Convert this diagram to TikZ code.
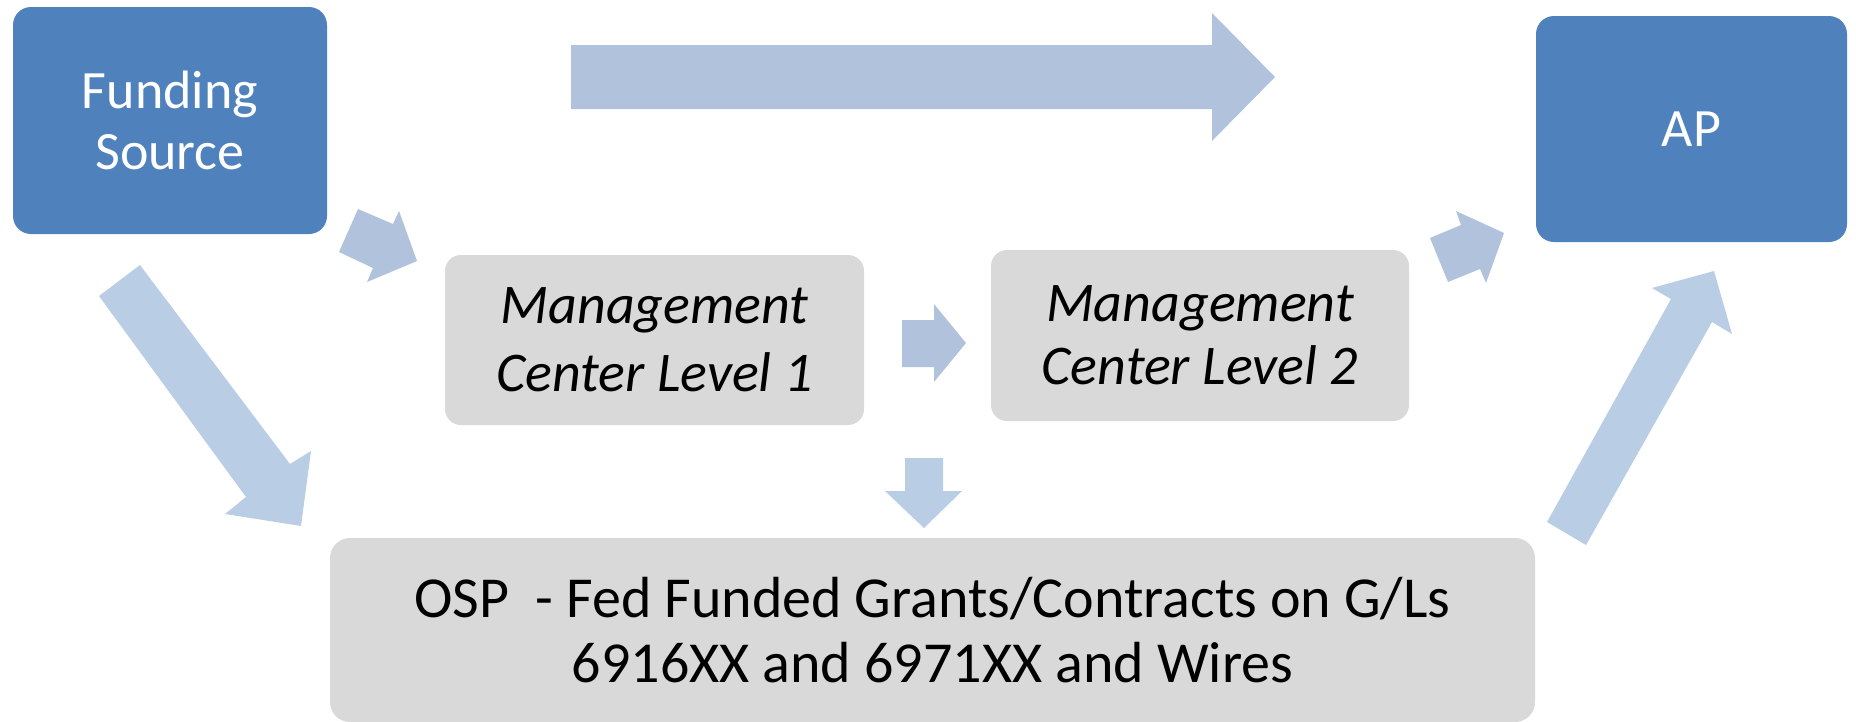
\documentclass[tikz,border=0pt]{standalone}
\usepackage{fontspec}
\setmainfont{Carlito}
\definecolor{boxblue}{HTML}{4F81BD}
\definecolor{boxgray}{HTML}{D9D9D9}
\definecolor{arrowA}{HTML}{B1C2DC}
\definecolor{arrowB}{HTML}{B9CDE5}
\begin{document}
\begin{tikzpicture}[x=1pt,y=-1pt,
  bluebox/.style={fill=boxblue, rounded corners=18pt, text=white, align=center, inner sep=0pt, font=\fontsize{54}{61}\selectfont},
  graybox/.style={fill=boxgray, rounded corners=16pt, text=black, align=center, inner sep=0pt},
  smallarrow/.style={fill=arrowA},
  bigarrow/.style={fill=arrowB}]
\useasboundingbox (0,0) rectangle (1856,721);
% boxes
\node[bluebox, minimum width=314pt, minimum height=227pt] (fund) at (170,120.5) {Funding\\Source};
\node[bluebox, minimum width=311pt, minimum height=226pt] (ap) at (1691.5,129) {AP};
\node[graybox, minimum width=419pt, minimum height=170pt, font=\itshape\fontsize{56}{68}\selectfont] (mc1) at (654.5,340) {Management\\Center Level 1};
\node[graybox, minimum width=418pt, minimum height=171pt, font=\itshape\fontsize{56}{63}\selectfont] (mc2) at (1200,335.5) {Management\\Center Level 2};
\node[graybox, rounded corners=20pt, minimum width=1205pt, minimum height=184pt, font=\fontsize{58}{65}\selectfont] (osp) at (932.5,630) {OSP\ \ - Fed Funded Grants/Contracts on G/Ls\\6916XX and 6971XX and Wires};
% top arrow Funding -> AP
\fill[smallarrow] (571,45) -- (1212,45) -- (1212,13) -- (1275,77) -- (1212,141) -- (1212,109) -- (571,109) -- cycle;
% Funding -> MC1
\fill[smallarrow] (358,209) -- (393,224) -- (399,211) -- (417,261) -- (367,282) -- (373,268) -- (339,252) -- cycle;
% MC1 -> MC2
\fill[smallarrow] (902,320) -- (934,320) -- (934,304) -- (966,343) -- (934,382) -- (934,367) -- (902,367) -- cycle;
% MC2 -> AP
\fill[smallarrow] (1456,211) -- (1504,233) -- (1486,283) -- (1480,269) -- (1448,282) -- (1430,238) -- (1461,225) -- cycle;
% MC1 -> OSP
\fill[bigarrow] (905,458) -- (943,458) -- (943,491) -- (962,491) -- (924,528) -- (885,491) -- (905,491) -- cycle;
% Funding -> OSP
\fill[bigarrow] (140,265) -- (290,464) -- (311,451) -- (301,526) -- (225,514) -- (246,497) -- (99,296) -- cycle;
% OSP -> AP
\fill[bigarrow] (1547,522) -- (1671,299) -- (1652,288) -- (1714,271) -- (1732,334) -- (1712,322) -- (1586,545) -- cycle;
\end{tikzpicture}
\end{document}
